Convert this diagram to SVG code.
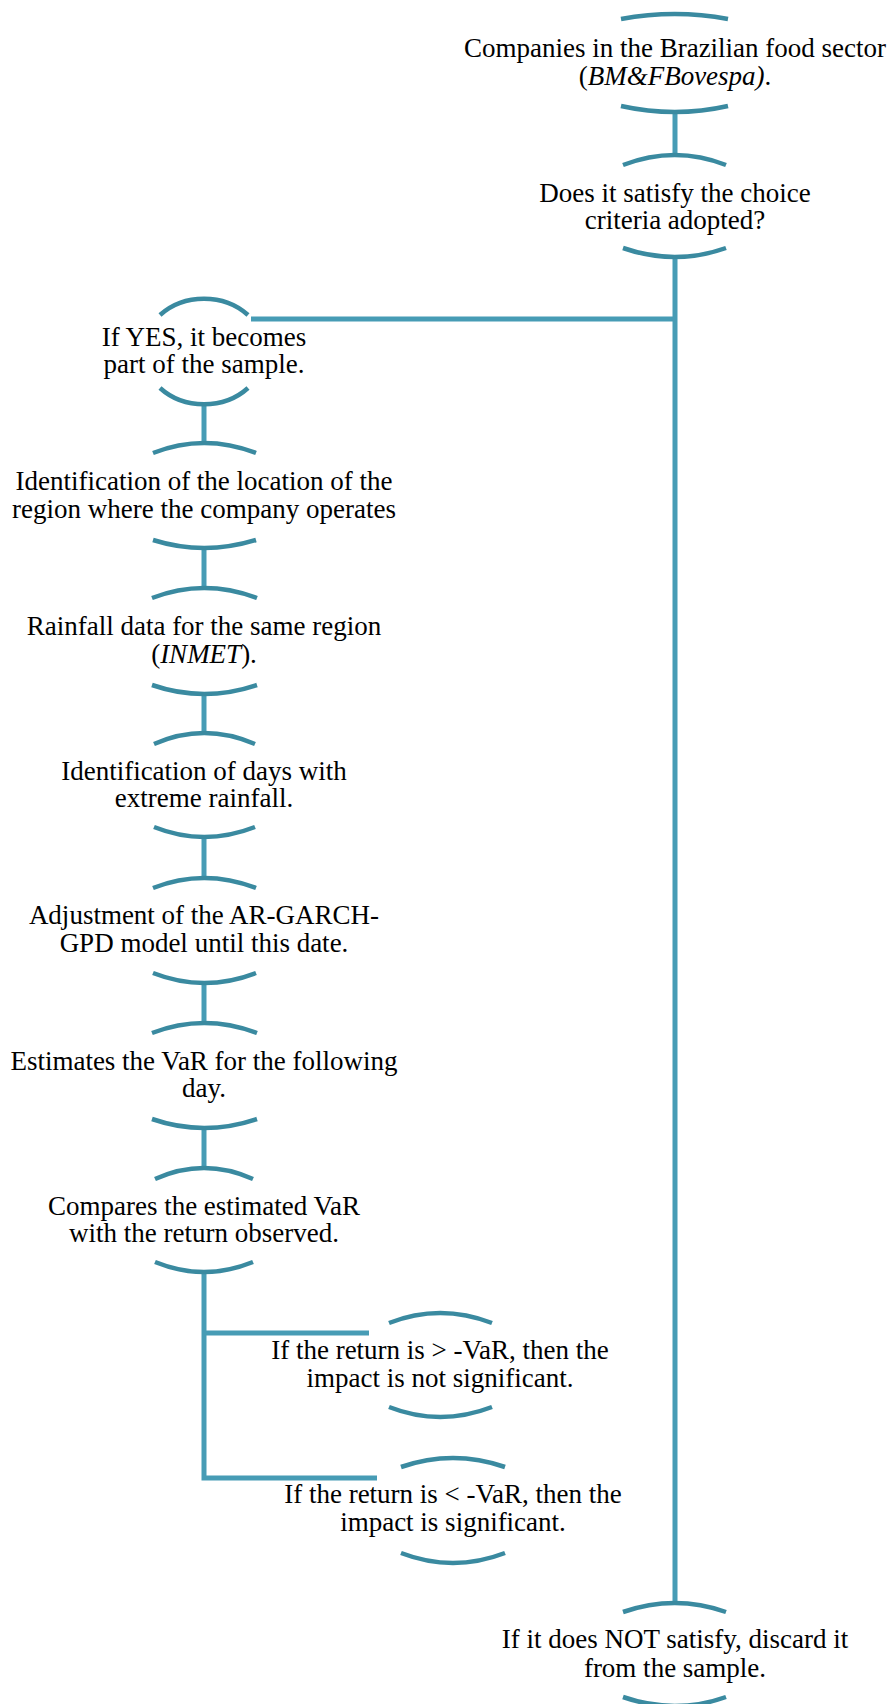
<svg xmlns="http://www.w3.org/2000/svg" width="888" height="1704" viewBox="0 0 888 1704">
<style>
.arc{fill:none;stroke:#3A8AA0;stroke-width:4.5}
.con{fill:none;stroke:#479CB5;stroke-width:5}
text{font-family:"Liberation Serif","Times New Roman",serif;font-size:27px;fill:#000;text-anchor:middle}
</style>
<rect width="888" height="1704" fill="#fff"/>
<g id="connectors">
<path class="con" d="M675,112 V155"/>
<path class="con" d="M675,257 V1603"/>
<path class="con" d="M251,319 H675"/>
<path class="con" d="M204,404 V443"/>
<path class="con" d="M204,548 V588"/>
<path class="con" d="M204,694 V733"/>
<path class="con" d="M204,837 V878"/>
<path class="con" d="M204,983 V1023"/>
<path class="con" d="M204,1128 V1168"/>
<path class="con" d="M204,1271 V1478 H377"/>
<path class="con" d="M204,1333 H369"/>
</g>
<g id="n1">
<path class="arc" d="M621,19 Q675,9 728,19"/>
<text x="675" y="57">Companies in the Brazilian food sector</text>
<text x="675" y="85">(<tspan font-style="italic">BM&amp;FBovespa)</tspan>.</text>
<path class="arc" d="M621,106 Q675,118 728,106"/>
</g>
<g id="n2">
<path class="arc" d="M623,165 Q675,145 726,165"/>
<text x="675" y="202">Does it satisfy the choice</text>
<text x="675" y="229">criteria adopted?</text>
<path class="arc" d="M623,248 Q675,266 726,248"/>
</g>
<g id="n3">
<path class="arc" d="M160,315 A61,53 0 0 1 248,315"/>
<text x="204" y="346">If YES, it becomes</text>
<text x="204" y="373">part of the sample.</text>
<path class="arc" d="M160,388 A61,53 0 0 0 248,388"/>
</g>
<g id="n4">
<path class="arc" d="M153,453 Q204,433 256,453"/>
<text x="204" y="490">Identification of the location of the</text>
<text x="204" y="518">region where the company operates</text>
<path class="arc" d="M153,540 Q204,556 256,540"/>
</g>
<g id="n5">
<path class="arc" d="M152,598 Q204,578 257,598"/>
<text x="204" y="635">Rainfall data for the same region</text>
<text x="204" y="663">(<tspan font-style="italic">INMET</tspan>).</text>
<path class="arc" d="M152,685 Q204,703 257,685"/>
</g>
<g id="n6">
<path class="arc" d="M154,744 Q204,722 255,744"/>
<text x="204" y="780">Identification of days with</text>
<text x="204" y="807">extreme rainfall.</text>
<path class="arc" d="M154,827 Q204,847 255,827"/>
</g>
<g id="n7">
<path class="arc" d="M153,888 Q204,868 256,888"/>
<text x="204" y="924">Adjustment of the AR-GARCH-</text>
<text x="204" y="952">GPD model until this date.</text>
<path class="arc" d="M153,973 Q204,993 256,973"/>
</g>
<g id="n8">
<path class="arc" d="M152,1033 Q204,1013 257,1033"/>
<text x="204" y="1070">Estimates the VaR for the following</text>
<text x="204" y="1097">day.</text>
<path class="arc" d="M152,1119 Q204,1137 257,1119"/>
</g>
<g id="n9">
<path class="arc" d="M155,1179 Q204,1157 253,1179"/>
<text x="204" y="1215">Compares the estimated VaR</text>
<text x="204" y="1242">with the return observed.</text>
<path class="arc" d="M155,1262 Q204,1282 253,1262"/>
</g>
<g id="n10">
<path class="arc" d="M389,1323 Q440,1303 492,1323"/>
<text x="440" y="1359">If the return is &gt; -VaR, then the</text>
<text x="440" y="1387">impact is not significant.</text>
<path class="arc" d="M389,1407 Q440,1427 492,1407"/>
</g>
<g id="n11">
<path class="arc" d="M401,1467 Q453,1449 505,1467"/>
<text x="453" y="1503">If the return is &lt; -VaR, then the</text>
<text x="453" y="1531">impact is significant.</text>
<path class="arc" d="M401,1553 Q453,1573 505,1553"/>
</g>
<g id="n12">
<path class="arc" d="M623,1612 Q675,1594 726,1612"/>
<text x="675" y="1648">If it does NOT satisfy, discard it</text>
<text x="675" y="1677">from the sample.</text>
<path class="arc" d="M623,1697 Q675,1715 726,1697"/>
</g>
</svg>
